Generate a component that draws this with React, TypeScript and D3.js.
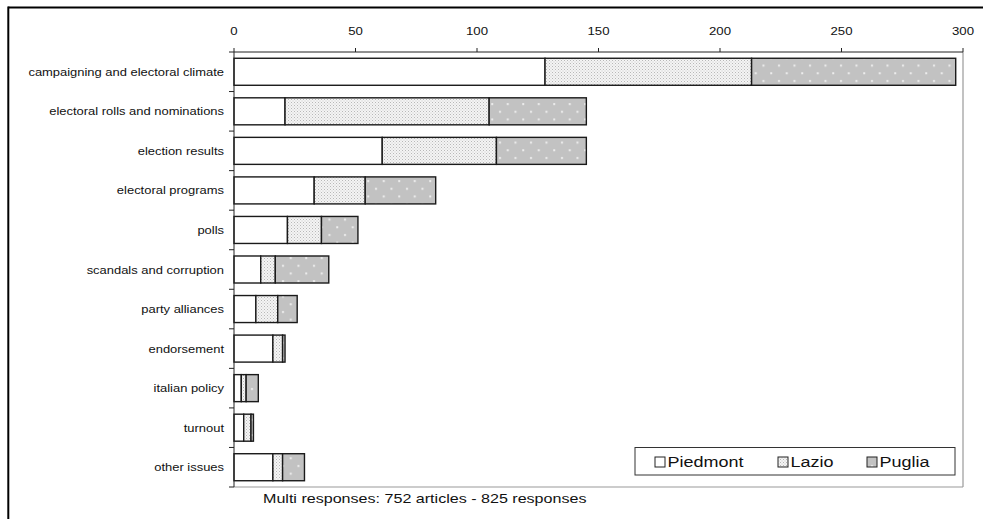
import React from "react";
import * as d3 from "d3";

const categories = [
  "campaigning and electoral climate",
  "electoral rolls and nominations",
  "election results",
  "electoral programs",
  "polls",
  "scandals and corruption",
  "party alliances",
  "endorsement",
  "italian policy",
  "turnout",
  "other issues",
];
const piedmont = [128, 21, 61, 33, 22, 11, 9, 16, 3, 4, 16];
const lazio = [85, 84, 47, 21, 14, 6, 9, 4, 2, 3, 4];
const puglia = [84, 40, 37, 29, 15, 22, 8, 1, 5, 1, 9];
const seriesNames = ["Piedmont", "Lazio", "Puglia"];
const xTicks = [0, 50, 100, 150, 200, 250, 300];
const footnote = "Multi responses: 752 articles - 825 responses";

const W = 983;
const H = 519;
const FONT = "'Liberation Sans', Arial, Helvetica, sans-serif";
const SX = 1.2; // horizontal text stretch seen in the reference

export default function App() {
  const left = 234;
  const right = 963;
  const top = 52;
  const bottom = 487;

  const x = d3.scaleLinear().domain([0, 300]).range([left, right]);
  const y = d3
    .scaleBand<string>()
    .domain(categories)
    .range([top, bottom])
    .paddingInner(0.317)
    .paddingOuter(0.1585);

  const fills = ["#ffffff", "url(#patLazio)", "url(#patPuglia)"];
  const rows = categories.map((c, i) => {
    const vals = [piedmont[i], lazio[i], puglia[i]];
    let acc = 0;
    return vals.map((v, k) => {
      const x0 = acc;
      acc += v;
      return { c, k, x0, x1: acc };
    });
  });

  const step = y.step();
  const catTicks = categories.map((c) => (y(c) as number) - (step * 0.317) / 2);
  catTicks.push(bottom);

  const legendItems = [
    { name: seriesNames[0], bx: 655, fill: fills[0] },
    { name: seriesNames[1], bx: 778, fill: fills[1] },
    { name: seriesNames[2], bx: 867, fill: fills[2] },
  ];

  return (
    <svg
      width={W}
      height={H}
      style={{ position: "absolute", left: 0, top: 0, background: "#fff" }}
      fontFamily={FONT}
    >
      <defs>
        <pattern id="patLazio" patternUnits="userSpaceOnUse" width="3" height="3">
          <rect width="3" height="3" fill="#f4f4f4" />
          <rect x="0" y="0" width="1" height="1" fill="#b8b8b8" />
          <rect x="1.5" y="1.5" width="1" height="1" fill="#c8c8c8" />
        </pattern>
        <pattern id="patPuglia" patternUnits="userSpaceOnUse" width="15.5" height="15.4">
          <rect width="15.5" height="15.4" fill="#c2c2c2" />
          <rect x="3" y="3" width="2" height="2" fill="#eeeeee" />
          <rect x="10.75" y="10.7" width="2" height="2" fill="#eeeeee" />
        </pattern>
      </defs>
      <rect width={W} height={H} fill="#fff" />

      {/* outer frame */}
      <line x1={8.3} y1={7.5} x2={W} y2={7.5} stroke="#000" strokeWidth={2} />
      <line x1={8.3} y1={6.5} x2={8.3} y2={H} stroke="#000" strokeWidth={2} />

      {/* plot border */}
      <line x1={right} y1={top} x2={right} y2={bottom} stroke="#999" strokeWidth={1.2} />
      <line x1={left} y1={bottom} x2={right} y2={bottom} stroke="#999" strokeWidth={1.2} />

      {/* bars */}
      {rows.map((segs) =>
        segs.map((s) => (
          <rect
            key={s.c + s.k}
            x={x(s.x0)}
            y={y(s.c)}
            width={x(s.x1) - x(s.x0)}
            height={y.bandwidth()}
            fill={fills[s.k]}
            stroke="#1a1a1a"
            strokeWidth={1.4}
          />
        ))
      )}

      {/* top axis */}
      <line x1={left} y1={top} x2={right} y2={top} stroke="#222" strokeWidth={1} />
      {xTicks.map((t) => (
        <g key={t}>
          <line x1={x(t)} y1={top - 4} x2={x(t)} y2={top} stroke="#222" />
          <text
            transform={`translate(${x(t)},35) scale(${SX},1)`}
            textAnchor="middle"
            fontSize={11}
            fill="#111"
          >
            {t}
          </text>
        </g>
      ))}

      {/* left axis */}
      <line x1={left} y1={top} x2={left} y2={bottom} stroke="#222" strokeWidth={1} />
      {catTicks.map((ty, i) => (
        <line key={i} x1={left - 5} y1={ty} x2={left} y2={ty} stroke="#222" />
      ))}
      {categories.map((c) => (
        <text
          key={c}
          transform={`translate(224,${(y(c) as number) + y.bandwidth() / 2 + 4}) scale(${SX},1)`}
          textAnchor="end"
          fontSize={10.8}
          fill="#111"
        >
          {c}
        </text>
      ))}

      {/* legend */}
      <rect x={635} y={447.5} width={320} height={27.5} fill="#fff" stroke="#333" strokeWidth={1} />
      {legendItems.map((it) => (
        <g key={it.name}>
          <rect x={it.bx} y={457} width={10} height={10} fill={it.fill} stroke="#222" strokeWidth={1} />
          <text
            transform={`translate(${it.bx + 12.5},467) scale(${SX},1)`}
            fontSize={15}
            fill="#111"
          >
            {it.name}
          </text>
        </g>
      ))}

      {/* footnote */}
      <text transform={`translate(263,503) scale(${SX},1)`} fontSize={13.4} fill="#111">
        {footnote}
      </text>
    </svg>
  );
}
